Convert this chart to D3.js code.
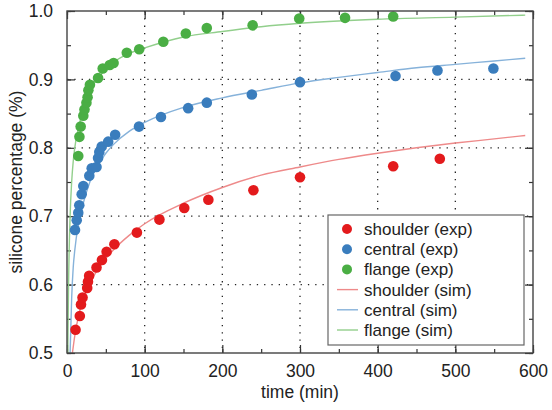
<!DOCTYPE html>
<html>
<head>
<meta charset="utf-8">
<script src="https://cdn.jsdelivr.net/npm/d3@7"></script>
<style>
  html, body { margin: 0; padding: 0; background: #fff; }
  svg { display: block; }
  text { font-family: "Liberation Sans", Arial, Helvetica, sans-serif; fill: #222; }
</style>
</head>
<body>
<svg id="chart" width="552" height="410"></svg>
<script>
// Experimental measurements: [time (min), silicone fraction]
const shoulderExp = [
  [11, 0.534], [16.5, 0.554], [18, 0.571], [20, 0.581], [26, 0.595], [27, 0.604],
  [28.5, 0.613], [38, 0.625], [45, 0.636], [51, 0.648], [61, 0.659], [90, 0.676],
  [119, 0.695], [151, 0.712], [182, 0.724], [240, 0.738], [300, 0.757],
  [420, 0.773], [480, 0.784]
];
const centralExp = [
  [10.3, 0.680], [12.5, 0.694], [14.5, 0.705], [15.8, 0.716], [18.9, 0.732],
  [21, 0.744], [28.7, 0.759], [31.8, 0.770], [38, 0.772], [40, 0.785],
  [41.6, 0.794], [44.7, 0.802], [53, 0.809], [62, 0.819], [92.7, 0.831],
  [121, 0.845], [156, 0.858], [180, 0.866], [238, 0.878], [300, 0.896],
  [423, 0.905], [477, 0.913], [549, 0.916]
];
const flangeExp = [
  [14.5, 0.788], [16, 0.816], [17.6, 0.831], [21, 0.847], [22.5, 0.856],
  [25, 0.866], [26.5, 0.874], [27.5, 0.884], [29.5, 0.892], [40, 0.902],
  [46, 0.916], [55, 0.921], [60, 0.924], [77, 0.939], [93, 0.944],
  [124, 0.955], [153, 0.967], [180, 0.975], [239, 0.979], [299, 0.989],
  [358, 0.990], [420, 0.992]
];

// Simulated curves: [time (min), silicone fraction]
const shoulderSim = [
  [7, 0.50], [10, 0.525], [15, 0.555], [20, 0.575], [30, 0.603], [40, 0.623],
  [50, 0.638], [60, 0.651], [80, 0.672], [100, 0.689], [150, 0.719],
  [200, 0.742], [250, 0.760], [300, 0.772], [350, 0.783], [400, 0.792],
  [450, 0.800], [500, 0.807], [550, 0.813], [590, 0.818]
];
const centralSim = [
  [4, 0.50], [6, 0.58], [8, 0.625], [10, 0.65], [15, 0.69], [20, 0.715],
  [30, 0.752], [40, 0.775], [50, 0.792], [60, 0.805], [80, 0.824],
  [100, 0.837], [150, 0.859], [200, 0.873], [250, 0.884], [300, 0.895],
  [350, 0.903], [400, 0.910], [450, 0.917], [500, 0.922], [550, 0.927],
  [590, 0.931]
];
const flangeSim = [
  [1, 0.50], [2, 0.60], [4, 0.70], [6, 0.75], [8, 0.78], [10, 0.80],
  [15, 0.83], [20, 0.853], [25, 0.870], [30, 0.884], [40, 0.902],
  [50, 0.915], [60, 0.925], [80, 0.938], [100, 0.946], [150, 0.962],
  [200, 0.970], [250, 0.977], [300, 0.982], [400, 0.988], [500, 0.991],
  [590, 0.994]
];

const xTicks = [0, 100, 200, 300, 400, 500, 600];
const yTicks = [0.5, 0.6, 0.7, 0.8, 0.9, 1.0];
const legendLabels = ["shoulder (exp)", "central (exp)", "flange (exp)",
                      "shoulder (sim)", "central (sim)", "flange (sim)"];

const dotColors = { shoulder: "#e31a1c", central: "#3a7dbd", flange: "#4aae44" };
const lineColors = { shoulder: "#ee8a8a", central: "#86b2da", flange: "#92cf8c" };

const svg = d3.select("#chart");
const plot = { left: 67, right: 533, top: 11, bottom: 353 };

const x = d3.scaleLinear().domain([0, 600]).range([plot.left, plot.right]);
const y = d3.scaleLinear().domain([0.5, 1.0]).range([plot.bottom, plot.top]);

// dotted grid on interior major ticks
const grid = svg.append("g");
grid.selectAll("line.gx").data(xTicks.slice(1, -1)).join("line")
  .attr("x1", d => x(d)).attr("x2", d => x(d))
  .attr("y1", plot.top).attr("y2", plot.bottom)
  .attr("stroke", "#222").attr("stroke-width", 1.3)
  .attr("stroke-dasharray", "1.3,6");
grid.selectAll("line.gy").data(yTicks.slice(1, -1)).join("line")
  .attr("y1", d => y(d)).attr("y2", d => y(d))
  .attr("x1", plot.left).attr("x2", plot.right)
  .attr("stroke", "#222").attr("stroke-width", 1.3)
  .attr("stroke-dasharray", "1.3,6");

// axes with inward ticks
const xMinor = d3.range(0, 601, 50);
const yMinor = d3.range(0.5, 1.0001, 0.05);
function addAxis(gen, tf) {
  return svg.append("g").attr("transform", tf).call(gen)
    .call(g => g.select(".domain").remove())
    .call(g => g.selectAll("line").attr("stroke", "#333").attr("stroke-width", 1.2));
}
addAxis(d3.axisBottom(x).tickValues(xMinor).tickSize(-4).tickFormat(""), `translate(0,${plot.bottom})`);
addAxis(d3.axisTop(x).tickValues(xMinor).tickSize(-4).tickFormat(""), `translate(0,${plot.top})`);
addAxis(d3.axisLeft(y).tickValues(yMinor).tickSize(-4).tickFormat(""), `translate(${plot.left},0)`);
addAxis(d3.axisRight(y).tickValues(yMinor).tickSize(-4).tickFormat(""), `translate(${plot.right},0)`);

const xAxis = addAxis(d3.axisBottom(x).tickValues(xTicks).tickSize(-8).tickPadding(12).tickFormat(d3.format("d")),
  `translate(0,${plot.bottom})`);
xAxis.selectAll("text").style("font-size", "17.5px").attr("fill", "#222");
addAxis(d3.axisTop(x).tickValues(xTicks).tickSize(-8).tickFormat(""), `translate(0,${plot.top})`);
const yAxis = addAxis(d3.axisLeft(y).tickValues(yTicks).tickSize(-8).tickPadding(14).tickFormat(d3.format(".1f")),
  `translate(${plot.left},0)`);
yAxis.selectAll("text").style("font-size", "17.5px").attr("fill", "#222");
addAxis(d3.axisRight(y).tickValues(yTicks).tickSize(-8).tickFormat(""), `translate(${plot.right},0)`);

// simulated curves
const line = d3.line().x(d => x(d[0])).y(d => y(d[1])).curve(d3.curveMonotoneX);
const curves = [["shoulder", shoulderSim], ["central", centralSim], ["flange", flangeSim]];
svg.append("g").selectAll("path").data(curves).join("path")
  .attr("d", d => line(d[1]))
  .attr("fill", "none")
  .attr("stroke", d => lineColors[d[0]])
  .attr("stroke-width", 1.4);

// experimental points
const points = [["shoulder", shoulderExp], ["central", centralExp], ["flange", flangeExp]];
points.forEach(([key, data]) => {
  svg.append("g").selectAll("circle").data(data).join("circle")
    .attr("cx", d => x(d[0])).attr("cy", d => y(d[1]))
    .attr("r", 5.3)
    .attr("fill", dotColors[key]);
});

// frame
svg.append("rect")
  .attr("x", plot.left).attr("y", plot.top)
  .attr("width", plot.right - plot.left).attr("height", plot.bottom - plot.top)
  .attr("fill", "none").attr("stroke", "#444").attr("stroke-width", 1.4);

// axis titles
svg.append("text")
  .attr("x", (plot.left + plot.right) / 2).attr("y", 398)
  .attr("text-anchor", "middle").style("font-size", "17.5px")
  .text("time (min)");
svg.append("text")
  .attr("transform", `translate(22,${(plot.top + plot.bottom) / 2}) rotate(-90)`)
  .attr("text-anchor", "middle").style("font-size", "17.5px")
  .text("silicone percentage (%)");

// legend
const leg = svg.append("g");
const legBox = { x: 328, y: 215, w: 196, h: 130 };
leg.append("rect")
  .attr("x", legBox.x).attr("y", legBox.y)
  .attr("width", legBox.w).attr("height", legBox.h)
  .attr("fill", "#fff").attr("stroke", "#666").attr("stroke-width", 1.2);
const keys = ["shoulder", "central", "flange", "shoulder", "central", "flange"];
const rowY = d3.scaleLinear().domain([0, 5]).range([legBox.y + 14, legBox.y + 115]);
const rows = leg.selectAll("g.row").data(legendLabels).join("g")
  .attr("transform", (d, i) => `translate(0,${rowY(i)})`);
rows.each(function (d, i) {
  const g = d3.select(this);
  if (i < 3) {
    g.append("circle").attr("cx", 347).attr("cy", 0).attr("r", 5).attr("fill", dotColors[keys[i]]);
  } else {
    g.append("line").attr("x1", 337).attr("x2", 358).attr("y1", 0).attr("y2", 0)
      .attr("stroke", lineColors[keys[i]]).attr("stroke-width", 1.4);
  }
  g.append("text").attr("x", 364).attr("y", 0).attr("dy", "0.35em")
    .style("font-size", "17px").text(d);
});
</script>
</body>
</html>
